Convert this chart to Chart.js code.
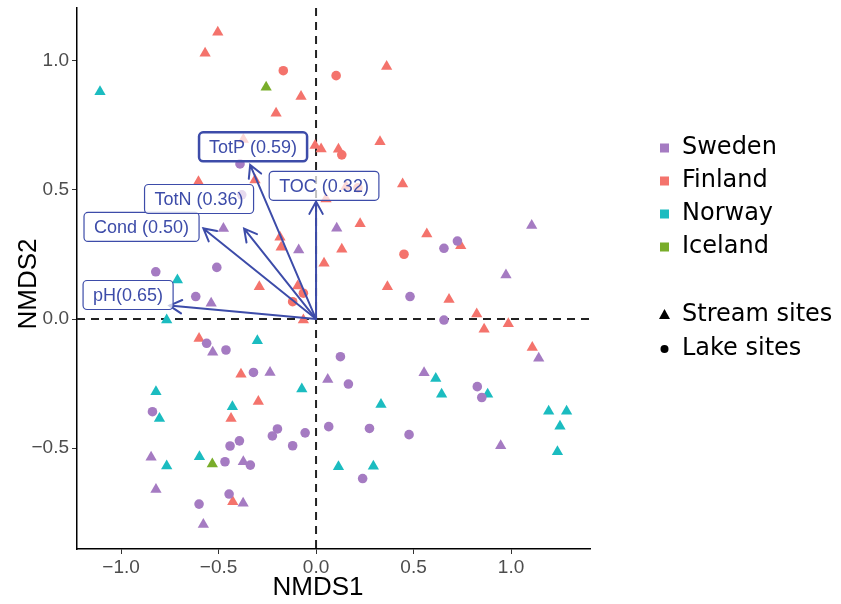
<!DOCTYPE html>
<html>
<head>
<meta charset="utf-8">
<script src="https://cdn.jsdelivr.net/npm/chart.js@4.4.1/dist/chart.umd.min.js"></script>
<style>
  body { margin: 0; background: #fff; }
  #wrap { width: 841px; height: 604px; }
</style>
</head>
<body>
<div id="wrap"><canvas id="nmdsChart" width="841" height="604"></canvas></div>
<script>
// site scores [NMDS1, NMDS2]
const swedenStream = [
    [0.106, 0.352], [-0.475, 0.351], [-0.089, 0.267], [-0.538, 0.061], [1.106, 0.362],
    [0.974, 0.171], [1.142, -0.152], [-0.530, -0.129], [-0.236, -0.207], [0.060, -0.234],
    [0.554, -0.208], [0.947, -0.491], [-0.846, -0.536], [-0.373, -0.553], [-0.821, -0.660],
    [-0.374, -0.714], [-0.578, -0.796]
];
const swedenLake = [
    [-0.390, 0.601], [-0.381, 0.481], [0.656, 0.274], [0.725, 0.302], [0.482, 0.087],
    [0.656, -0.004], [-0.822, 0.183], [-0.509, 0.200], [-0.617, 0.087], [-0.561, -0.094],
    [-0.462, -0.120], [-0.321, -0.207], [0.125, -0.146], [0.166, -0.252], [0.827, -0.262],
    [0.850, -0.304], [-0.839, -0.359], [-0.198, -0.426], [-0.224, -0.453], [-0.056, -0.441],
    [0.065, -0.417], [0.274, -0.424], [0.477, -0.448], [-0.120, -0.491], [-0.393, -0.472],
    [-0.441, -0.492], [-0.467, -0.553], [-0.337, -0.566], [0.239, -0.618], [-0.446, -0.678],
    [-0.600, -0.717]
];
const finlandStream = [
    [-0.504, 1.111], [-0.569, 1.030], [-0.077, 0.862], [-0.205, 0.797], [0.362, 0.978],
    [-0.373, 0.696], [-0.005, 0.672], [0.026, 0.659], [0.115, 0.658], [0.328, 0.687],
    [-0.313, 0.539], [-0.603, 0.532], [0.154, 0.513], [0.444, 0.523], [0.051, 0.465],
    [0.226, 0.369], [0.568, 0.329], [0.742, 0.284], [0.132, 0.270], [0.041, 0.216],
    [-0.185, 0.317], [-0.179, 0.278], [-0.291, 0.125], [-0.094, 0.128], [0.366, 0.125],
    [0.682, 0.076], [0.824, 0.019], [0.862, -0.040], [0.986, -0.018], [1.109, -0.110],
    [-0.065, -0.004], [-0.600, -0.075], [-0.385, -0.214], [-0.296, -0.320], [-0.436, -0.385],
    [-0.427, -0.708]
];
const finlandLake = [
    [-0.168, 0.962], [0.103, 0.943], [0.132, 0.636], [0.215, 0.508], [0.451, 0.251],
    [-0.065, 0.100], [-0.120, 0.067]
];
const norwayStream = [
    [-1.108, 0.881], [-0.711, 0.151], [-0.766, -0.004], [-0.301, -0.084], [-0.073, -0.271],
    [-0.821, -0.282], [-0.803, -0.385], [-0.429, -0.340], [0.614, -0.230], [0.644, -0.291],
    [0.880, -0.291], [0.333, -0.331], [1.193, -0.357], [1.285, -0.357], [1.251, -0.415],
    [1.238, -0.514], [-0.766, -0.569], [-0.598, -0.534], [0.115, -0.572], [0.294, -0.570]
];
const norwayLake = [];
const icelandStream = [[-0.256, 0.898], [-0.532, -0.562]];
const icelandLake = [];

const countries = ['Sweden', 'Finland', 'Norway', 'Iceland'];
const countryColors = ['#A57BC2', '#F4736C', '#1BBCC0', '#79AD2A'];
const siteTypes = ['Stream sites', 'Lake sites'];

// envfit vectors
const vecNames = ['pH', 'Cond', 'TotN', 'TotP', 'TOC'];
const vecR2 = [0.65, 0.50, 0.36, 0.59, 0.32];
const vecX = [-0.752, -0.578, -0.369, -0.338, 0.0];
const vecY = [0.052, 0.351, 0.350, 0.597, 0.455];
const vecLabelX = [-0.964, -0.895, -0.600, -0.323, 0.041];
const vecLabelY = [0.093, 0.357, 0.465, 0.667, 0.516];

const xTicks = [-1.0, -0.5, 0.0, 0.5, 1.0];
const yTicks = [-0.5, 0.0, 0.5, 1.0];

const groups = [
    [swedenStream, swedenLake],
    [finlandStream, finlandLake],
    [norwayStream, norwayLake],
    [icelandStream, icelandLake]
];

const datasets = [];
countries.forEach((c, i) => {
    groups[i].forEach((pts, j) => {
        datasets.push({
            label: c + ' ' + siteTypes[j],
            data: pts.map(p => ({ x: p[0], y: p[1] })),
            pointStyle: j === 0 ? 'triangle' : 'circle',
            pointRadius: j === 0 ? 6.5 : 4.8,
            pointBackgroundColor: countryColors[i],
            pointBorderWidth: 0,
            borderWidth: 0
        });
    });
});

const BLUE = '#3D4CA9';
const fmt = v => (v < 0 ? '\u2212' : '') + Math.abs(v).toFixed(1);
const noPad = s => { s.paddingTop = 0; s.paddingBottom = 0; s.paddingLeft = 0; s.paddingRight = 0; };

const zeroLines = {
    id: 'zeroLines',
    beforeDatasetsDraw(chart) {
        const { ctx, chartArea: a, scales: { x, y } } = chart;
        ctx.save();
        ctx.strokeStyle = '#222';
        ctx.lineWidth = 2;
        ctx.setLineDash([8, 6]);
        ctx.beginPath();
        ctx.moveTo(x.getPixelForValue(0), a.top);
        ctx.lineTo(x.getPixelForValue(0), a.bottom);
        ctx.moveTo(a.left, y.getPixelForValue(0));
        ctx.lineTo(a.right, y.getPixelForValue(0));
        ctx.stroke();
        ctx.restore();
    }
};

const vectors = {
    id: 'vectors',
    afterDatasetsDraw(chart) {
        const { ctx, scales: { x, y } } = chart;
        const x0 = x.getPixelForValue(0), y0 = y.getPixelForValue(0);
        ctx.save();
        ctx.strokeStyle = BLUE;
        ctx.lineWidth = 2;
        ctx.lineCap = 'round';
        vecNames.forEach((n, i) => {
            const x1 = x.getPixelForValue(vecX[i]), y1 = y.getPixelForValue(vecY[i]);
            const ang = Math.atan2(y1 - y0, x1 - x0);
            ctx.beginPath();
            ctx.moveTo(x0, y0);
            ctx.lineTo(x1, y1);
            ctx.moveTo(x1 - 14 * Math.cos(ang - 0.5), y1 - 14 * Math.sin(ang - 0.5));
            ctx.lineTo(x1, y1);
            ctx.lineTo(x1 - 14 * Math.cos(ang + 0.5), y1 - 14 * Math.sin(ang + 0.5));
            ctx.stroke();
        });
        // labels
        ctx.font = '18px "Liberation Sans", Arial, sans-serif';
        ctx.textAlign = 'center';
        ctx.textBaseline = 'middle';
        vecNames.forEach((n, i) => {
            const txt = n === 'pH' ? n + '(' + vecR2[i].toFixed(2) + ')' : n + ' (' + vecR2[i].toFixed(2) + ')';
            const cx = x.getPixelForValue(vecLabelX[i]), cy = y.getPixelForValue(vecLabelY[i]);
            const w = ctx.measureText(txt).width + 20, h = 29;
            ctx.beginPath();
            ctx.roundRect(cx - w / 2, cy - h / 2, w, h, 4);
            ctx.fillStyle = 'rgba(255,255,255,0.72)';
            ctx.fill();
            ctx.lineWidth = n === 'TotP' ? 2.5 : 1.2;
            ctx.strokeStyle = BLUE;
            ctx.stroke();
            ctx.fillStyle = BLUE;
            ctx.fillText(txt, cx, cy + 1);
        });
        ctx.restore();
    }
};

const extras = {
    id: 'extras',
    afterDraw(chart) {
        const { ctx } = chart;
        ctx.save();
        ctx.fillStyle = '#000';
        ctx.font = '26px "Liberation Sans", Arial, sans-serif';
        ctx.textAlign = 'center';
        ctx.textBaseline = 'middle';
        ctx.fillText('NMDS1', 318, 588);
        ctx.translate(29, 284);
        ctx.rotate(-Math.PI / 2);
        ctx.fillText('NMDS2', 0, 0);
        ctx.restore();

        // legend
        ctx.save();
        ctx.font = '24px "DejaVu Sans", Verdana, sans-serif';
        ctx.textBaseline = 'middle';
        ctx.textAlign = 'left';
        countries.forEach((c, i) => {
            const yy = 148 + i * 33;
            ctx.fillStyle = countryColors[i];
            ctx.fillRect(660, yy - 4.5, 9, 9);
            ctx.fillStyle = '#000';
            ctx.fillText(c, 682, yy);
        });
        siteTypes.forEach((s, i) => {
            const yy = 315 + i * 34;
            ctx.fillStyle = '#000';
            ctx.beginPath();
            if (i === 0) {
                ctx.moveTo(664.5, yy - 6);
                ctx.lineTo(670, yy + 4);
                ctx.lineTo(659, yy + 4);
                ctx.closePath();
            } else {
                ctx.arc(664.5, yy, 4, 0, Math.PI * 2);
            }
            ctx.fill();
            ctx.fillText(s, 682, yy);
        });
        ctx.restore();
    }
};

new Chart(document.getElementById('nmdsChart'), {
    type: 'scatter',
    data: { datasets: datasets },
    options: {
        responsive: false,
        animation: false,
        devicePixelRatio: 1,
        layout: { padding: { left: 0, top: 8, right: 251, bottom: 0 }, autoPadding: false },
        plugins: { legend: { display: false }, tooltip: { enabled: false } },
        scales: {
            x: {
                type: 'linear',
                min: -1.226,
                max: 1.405,
                afterBuildTicks: s => { s.ticks = xTicks.map(v => ({ value: v })); },
                afterFit: s => { s.height = 55; noPad(s); },
                ticks: {
                    color: '#4D4D4D',
                    font: { family: '"Liberation Sans", Arial, sans-serif', size: 19 },
                    padding: 2,
                    callback: v => fmt(v)
                },
                grid: { drawOnChartArea: false, drawTicks: true, tickLength: 5, color: '#333' },
                border: { display: true, color: '#000', width: 1.5 }
            },
            y: {
                type: 'linear',
                min: -0.891,
                max: 1.205,
                afterBuildTicks: s => { s.ticks = yTicks.map(v => ({ value: v })); },
                afterFit: s => { s.width = 77; noPad(s); },
                ticks: {
                    color: '#4D4D4D',
                    font: { family: '"Liberation Sans", Arial, sans-serif', size: 19 },
                    padding: 3,
                    callback: v => fmt(v)
                },
                grid: { drawOnChartArea: false, drawTicks: true, tickLength: 5, color: '#333' },
                border: { display: true, color: '#000', width: 1.5 }
            }
        }
    },
    plugins: [zeroLines, vectors, extras]
});
</script>
</body>
</html>
